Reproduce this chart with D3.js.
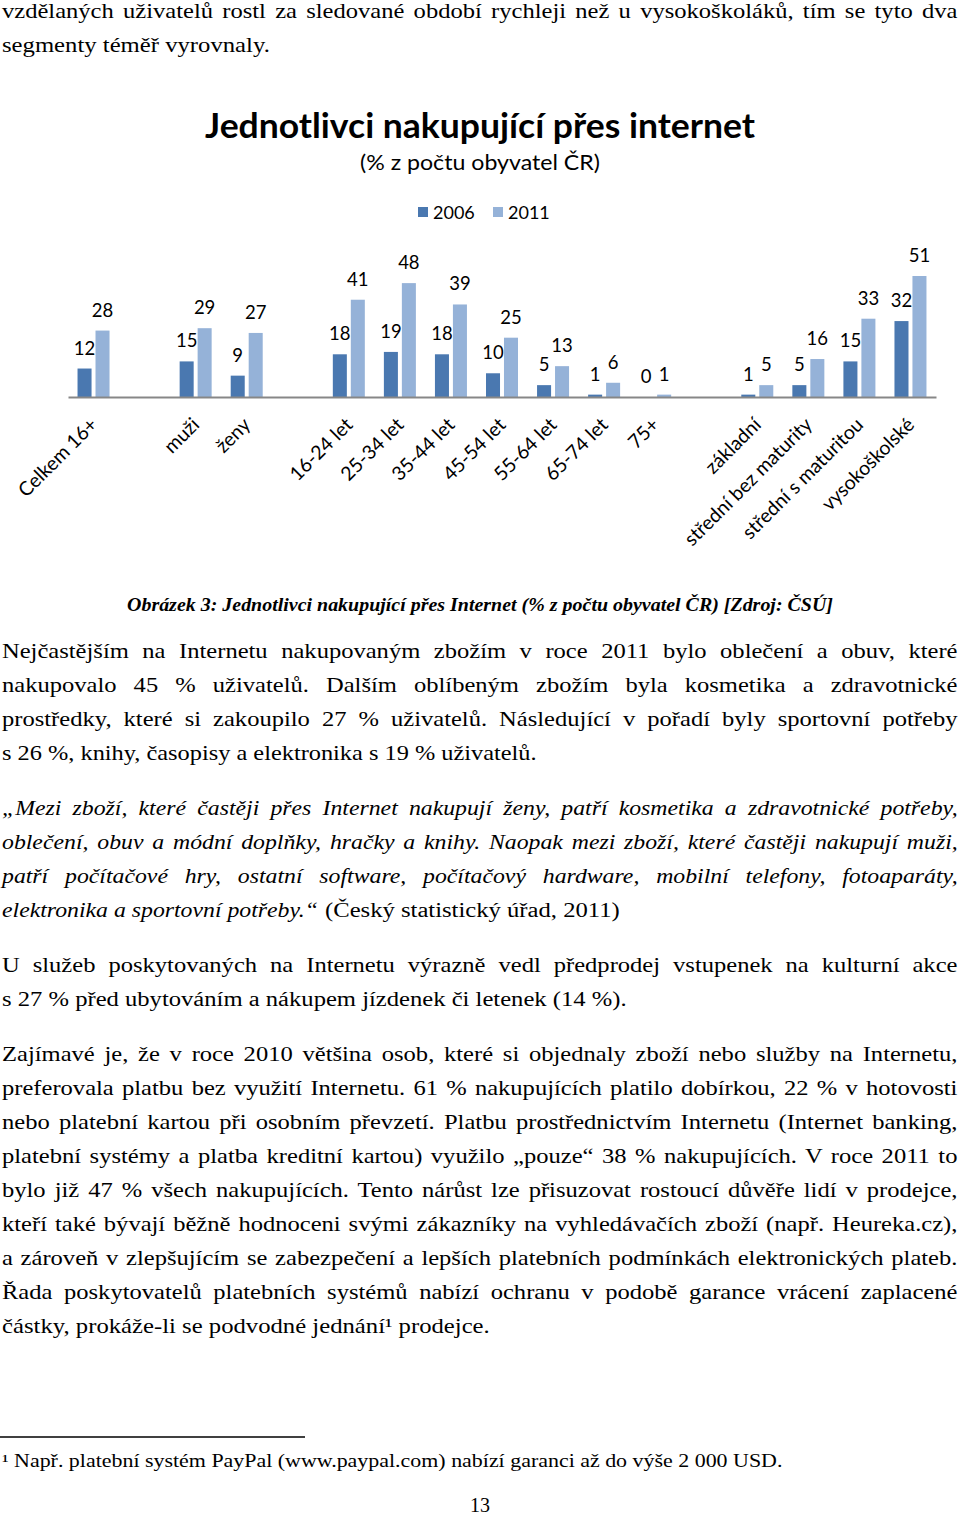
<!DOCTYPE html>
<html><head><meta charset="utf-8">
<script src="https://cdn.jsdelivr.net/npm/d3@7"></script>
<style>body{margin:0;background:#fff}svg{display:block}</style>
</head><body><svg id="page" width="960" height="1515"></svg>
<script>
// ---------- chart data ----------
const categories = ["Celkem 16+","","muži","ženy","","16-24 let","25-34 let","35-44 let","45-54 let","55-64 let","65-74 let","75+","","základní","střední bez maturity","střední s maturitou","vysokoškolské"];
const values2006 = [12,null,15,9,null,18,19,18,10,5,1,0,null,1,5,15,32];
const values2011 = [28,null,29,27,null,41,48,39,25,13,6,1,null,5,16,33,51];
const seriesNames = ["2006","2011"];
const chartTitle = "Jednotlivci nakupující přes internet";
const chartSubtitle = "(% z počtu obyvatel ČR)";

// ---------- page text ----------
const introLines = ["vzdělaných uživatelů rostl za sledované období rychleji než u vysokoškoláků, tím se tyto dva", "segmenty téměř vyrovnaly."];
const caption = "Obrázek 3: Jednotlivci nakupující přes Internet (% z počtu obyvatel ČR) [Zdroj: ČSÚ]";
const para1 = ["Nejčastějším na Internetu nakupovaným zbožím v roce 2011 bylo oblečení a obuv, které",
 "nakupovalo 45 % uživatelů. Dalším oblíbeným zbožím byla kosmetika a zdravotnické",
 "prostředky, které si zakoupilo 27 % uživatelů. Následující v pořadí byly sportovní potřeby",
 "s 26 %, knihy, časopisy a elektronika s 19 % uživatelů."];
const para2 = ["„Mezi zboží, které častěji přes Internet nakupují ženy, patří kosmetika a zdravotnické potřeby,",
 "oblečení, obuv a módní doplňky, hračky a knihy. Naopak mezi zboží, které častěji nakupují muži,",
 "patří počítačové hry, ostatní software, počítačový hardware, mobilní telefony, fotoaparáty,",
 "elektronika a sportovní potřeby.“"];
const para2Tail = "(Český statistický úřad, 2011)";
const para3 = ["U služeb poskytovaných na Internetu výrazně vedl předprodej vstupenek na kulturní akce",
 "s 27 % před ubytováním a nákupem jízdenek či letenek (14 %)."];
const para4 = ["Zajímavé je, že v roce 2010 většina osob, které si objednaly zboží nebo služby na Internetu,",
 "preferovala platbu bez využití Internetu. 61 % nakupujících platilo dobírkou, 22 % v hotovosti",
 "nebo platební kartou při osobním převzetí. Platbu prostřednictvím Internetu (Internet banking,",
 "platební systémy a platba kreditní kartou) využilo „pouze“ 38 % nakupujících. V roce 2011 to",
 "bylo již 47 % všech nakupujících. Tento nárůst lze přisuzovat rostoucí důvěře lidí v prodejce,",
 "kteří také bývají běžně hodnoceni svými zákazníky na vyhledávačích zboží (např. Heureka.cz),",
 "a zároveň v zlepšujícím se zabezpečení a lepších platebních podmínkách elektronických plateb.",
 "Řada poskytovatelů platebních systémů nabízí ochranu v podobě garance vrácení zaplacené",
 "částky, prokáže-li se podvodné jednání¹ prodejce."];
const footnote = "¹ Např. platební systém PayPal (www.paypal.com) nabízí garanci až do výše 2 000 USD.";
const pageNumber = "13";

const svg = d3.select("#page");
const bodyFont = "'Liberation Serif', 'Times New Roman', serif";
const chartFont = "Lato, 'Open Sans', sans-serif";

function measure(txt, opts) {
  const t = svg.append("text").attr("font-family", opts.family || bodyFont)
    .attr("font-size", opts.size).attr("font-style", opts.style || "normal")
    .attr("font-weight", opts.weight || "normal").text(txt);
  const w = t.node().getComputedTextLength(); t.remove(); return w;
}
// draw a line of body text; scale s horizontally; if justify, stretch spaces to width target
function bodyLine(txt, x, y, opts) {
  const W = measure(txt, opts);
  const s = opts.scale != null ? opts.scale : opts.target / W;
  const g = svg.append("g").attr("transform", `translate(${x},${y}) scale(${s},1)`);
  const t = g.append("text").attr("font-family", opts.family || bodyFont)
    .attr("font-size", opts.size).attr("font-style", opts.style || "normal")
    .attr("font-weight", opts.weight || "normal").attr("fill", "#000").text(txt);
  if (opts.justify) {
    const n = (txt.match(/ /g) || []).length;
    const ws = (opts.target / s - W) / n;
    t.attr("word-spacing", ws);
  }
  if (opts.anchor) t.attr("text-anchor", opts.anchor);
  return t;
}
const SZ = 20.5;
const reg = {size: SZ};
const ita = {size: SZ, style: "italic"};
// derive glyph compression from non-justified lines
const sReg = d3.mean([
  535 / measure(para1[3], reg),
  625 / measure(para3[1], reg),
  268 / measure(introLines[1], reg)
]);
const sIta = 316 / measure(para2[3], ita);
const L = 2, FULL = 956;

function para(lines, y0, style, s, lastTarget) {
  lines.forEach((ln, i) => {
    const last = i === lines.length - 1;
    if (!last) bodyLine(ln, L, y0 + i * 34, Object.assign({}, style, {scale: s, target: FULL, justify: true}));
    else bodyLine(ln, L, y0 + i * 34, Object.assign({}, style, lastTarget ? {target: lastTarget} : {scale: s}));
  });
}
para(introLines, 18, reg, sReg, 268);
para(para1, 658, reg, sReg, 535);
para(para2, 815, ita, sIta, 316);
bodyLine(para2Tail, 325, 917, Object.assign({}, reg, {target: 295}));
para(para3, 972, reg, sReg, 625);
para(para4, 1061, reg, sReg, 488);

// caption
bodyLine(caption, 127, 611, {size: 18, style: "italic", weight: "bold", target: 706});
// footnote separator and footnote
svg.append("line").attr("x1", 0).attr("x2", 305).attr("y1", 1437).attr("y2", 1437).attr("stroke", "#000").attr("stroke-width", 1.3);
bodyLine(footnote, 2, 1467, {size: 18.5, target: 781});
// page number
svg.append("text").attr("x", 480).attr("y", 1512).attr("text-anchor", "middle")
  .attr("font-family", bodyFont).attr("font-size", 20).text(pageNumber);

// ---------- chart ----------
const colors = ["#4a78b0", "#95b2d8"];
const base = 397;
const x = d3.scaleBand().domain(d3.range(categories.length)).range([68, 936]).paddingInner(0).paddingOuter(0);
const bw = x.bandwidth();
const x1 = d3.scaleBand().domain([0, 1]).range([bw / 2 - 16, bw / 2 + 16]).paddingInner(0.22);
const y = d3.scaleLinear().domain([0, 51]).range([base, base - 121]);

const chart = svg.append("g");
const series = [values2006, values2011];
series.forEach((vals, si) => {
  const data = vals.map((v, i) => ({i, v})).filter(d => d.v != null);
  chart.append("g").selectAll("rect").data(data).join("rect")
    .attr("x", d => x(d.i) + x1(si)).attr("width", x1.bandwidth())
    .attr("y", d => y(d.v)).attr("height", d => base - y(d.v))
    .attr("fill", colors[si]);
  chart.append("g").selectAll("text").data(data).join("text")
    .attr("x", d => x(d.i) + x1(si) + x1.bandwidth() / 2)
    .attr("y", d => y(d.v) - 14)
    .attr("text-anchor", "middle").attr("font-family", chartFont).attr("font-size", 18.5)
    .attr("fill", "#000").text(d => d.v);
});

const axis = d3.axisBottom(x).tickSize(0).tickSizeOuter(0).tickFormat(i => categories[i]);
const ax = chart.append("g").attr("transform", `translate(0,${base})`).call(axis);
ax.select(".domain").attr("stroke", "#878787").attr("stroke-width", 2);
ax.selectAll(".tick text")
  .attr("font-family", chartFont).attr("font-size", 19.5).attr("fill", "#000")
  .attr("x", 0).attr("y", 0).attr("dy", 0)
  .attr("text-anchor", "end")
  .attr("transform", "translate(5,29) rotate(-45)");

// title
const tt = svg.append("text").attr("x", 480).attr("y", 138).attr("text-anchor", "middle")
  .attr("font-family", chartFont).attr("font-weight", "bold").attr("font-size", 35).attr("fill", "#000")
  .text(chartTitle);
tt.attr("textLength", 550).attr("lengthAdjust", "spacingAndGlyphs");
svg.append("text").attr("x", 480).attr("y", 170).attr("text-anchor", "middle")
  .attr("font-family", chartFont).attr("font-size", 22).attr("fill", "#000")
  .attr("textLength", 240).attr("lengthAdjust", "spacingAndGlyphs")
  .text(chartSubtitle);

// legend
const legX = [418, 493];
const leg = svg.append("g");
seriesNames.forEach((n, i) => {
  leg.append("rect").attr("x", legX[i]).attr("y", 207).attr("width", 10).attr("height", 10).attr("fill", colors[i]);
  leg.append("text").attr("x", legX[i] + 15).attr("y", 219).attr("font-family", chartFont)
    .attr("font-size", 18).attr("fill", "#000").text(n);
});
</script>
</body></html>
